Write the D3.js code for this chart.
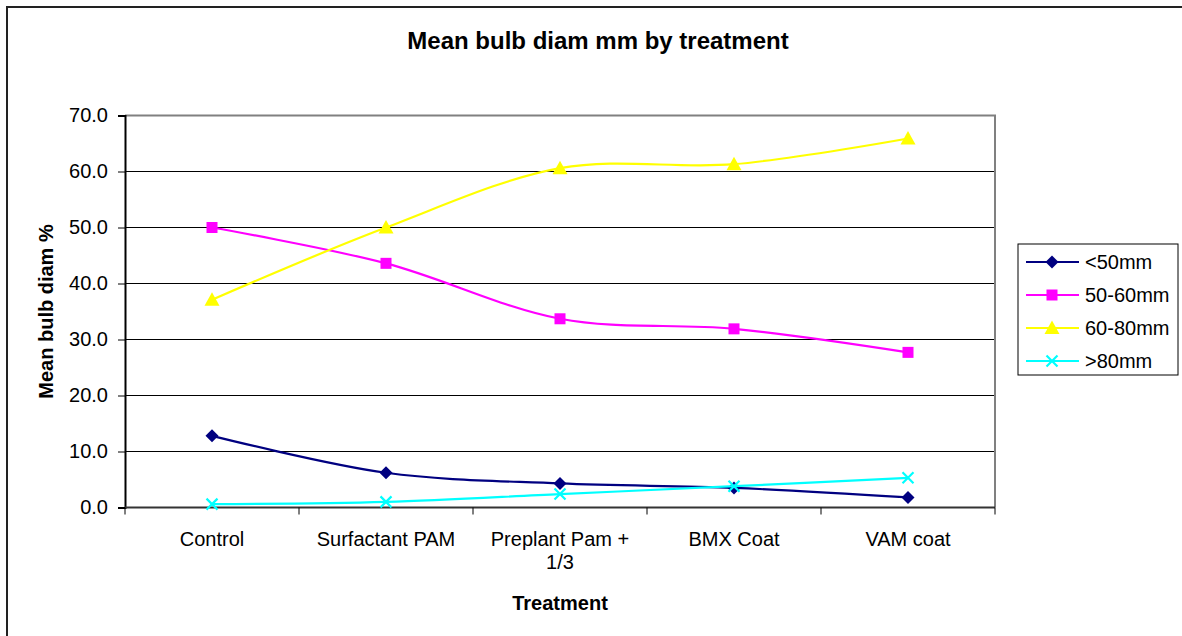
<!DOCTYPE html>
<html>
<head>
<meta charset="utf-8">
<script src="https://cdn.jsdelivr.net/npm/d3@7"></script>
<style>
  html, body { margin: 0; padding: 0; background: #fff; }
  svg { display: block; font-family: "Liberation Sans", Arial, sans-serif; }
</style>
</head>
<body>
<svg id="chart" width="1182" height="636"></svg>
<script>
// Treatments on the category axis
const categories = ["Control", "Surfactant PAM", "Preplant Pam + 1/3", "BMX Coat", "VAM coat"];
// Two-line wrapping of the category labels
const categoryLines = [["Control"], ["Surfactant PAM"], ["Preplant Pam +", "1/3"], ["BMX Coat"], ["VAM coat"]];

// Mean bulb diameter share (%) per size class
const seriesNames = ["<50mm", "50-60mm", "60-80mm", ">80mm"];
const under50 = [12.8, 6.2, 4.3, 3.5, 1.8];
const from50to60 = [50.0, 43.6, 33.7, 31.9, 27.7];
const from60to80 = [37.1, 50.0, 60.6, 61.3, 65.9];
const over80 = [0.6, 1.0, 2.4, 3.8, 5.3];
const seriesValues = [under50, from50to60, from60to80, over80];

const yTicks = [0, 10, 20, 30, 40, 50, 60, 70];

const colors = ["#000080", "#FF00FF", "#FFFF00", "#00FFFF"];
const markers = ["diamond", "square", "triangle", "cross"];

const svg = d3.select("#chart");
const plot = { left: 125, right: 995, top: 115.5, bottom: 507.5 };

// Outer chart frame
svg.append("rect")
  .attr("x", 7).attr("y", 7).attr("width", 1200).attr("height", 700)
  .attr("fill", "#fff").attr("stroke", "#222").attr("stroke-width", 2);

const x = d3.scaleBand().domain(categories).range([plot.left, plot.right]).padding(0);
const y = d3.scaleLinear().domain([0, 70]).range([plot.bottom, plot.top]);
const cx = c => x(c) + x.bandwidth() / 2;

// Horizontal gridlines
svg.append("g").selectAll("line")
  .data(yTicks.filter(v => v > 0 && v < 70))
  .join("line")
  .attr("x1", plot.left).attr("x2", plot.right)
  .attr("y1", d => y(d)).attr("y2", d => y(d))
  .attr("stroke", "#000").attr("stroke-width", 1);

// Plot area frame (top and right)
svg.append("path")
  .attr("d", `M${plot.left},${plot.top}H${plot.right}V${plot.bottom}`)
  .attr("fill", "none").attr("stroke", "#808080").attr("stroke-width", 2);

// Y axis
const yAxis = svg.append("g")
  .attr("transform", `translate(${plot.left},0)`)
  .call(d3.axisLeft(y).tickValues(yTicks).tickFormat(d3.format(".1f")).tickSize(7).tickPadding(10));
yAxis.select(".domain").attr("stroke", "#000").attr("stroke-width", 2);
yAxis.selectAll(".tick line").attr("stroke", "#000");
yAxis.selectAll(".tick text")
  .attr("font-size", 20).attr("fill", "#000")
  .attr("font-family", "'Liberation Sans', Arial, sans-serif");

// X axis: ticks sit on the category boundaries
const xg = svg.append("g");
xg.append("line")
  .attr("x1", plot.left).attr("x2", plot.right)
  .attr("y1", plot.bottom).attr("y2", plot.bottom)
  .attr("stroke", "#333").attr("stroke-width", 2);
const bounds = categories.map(c => x(c)).concat([x.range()[1]]);
xg.selectAll("line.tk").data(bounds).join("line")
  .attr("class", "tk")
  .attr("x1", d => d).attr("x2", d => d)
  .attr("y1", plot.bottom).attr("y2", plot.bottom + 7)
  .attr("stroke", "#000").attr("stroke-width", 1);

const labels = xg.selectAll("text.cat").data(categories).join("text")
  .attr("class", "cat")
  .attr("text-anchor", "middle")
  .attr("font-size", 20)
  .attr("fill", "#000");
labels.each(function(c, i) {
  d3.select(this).selectAll("tspan").data(categoryLines[i]).join("tspan")
    .attr("x", cx(c))
    .attr("y", (d, j) => 546 + j * 23)
    .text(d => d);
});

// Series lines (smoothed) and markers
const line = d3.line()
  .x((d, i) => cx(categories[i]))
  .y(d => y(d))
  .curve(d3.curveCatmullRom.alpha(0));

function drawMarker(g, type, color, px, py) {
  if (type === "diamond") {
    g.append("path")
      .attr("d", `M${px},${py - 6.5}L${px + 6.5},${py}L${px},${py + 6.5}L${px - 6.5},${py}Z`)
      .attr("fill", color);
  } else if (type === "square") {
    g.append("rect")
      .attr("x", px - 5.5).attr("y", py - 5.5).attr("width", 11).attr("height", 11)
      .attr("fill", color);
  } else if (type === "triangle") {
    g.append("path")
      .attr("d", `M${px},${py - 7.5}L${px + 7.5},${py + 6}L${px - 7.5},${py + 6}Z`)
      .attr("fill", color);
  } else {
    g.append("path")
      .attr("d", `M${px - 5.5},${py - 5.5}L${px + 5.5},${py + 5.5}M${px - 5.5},${py + 5.5}L${px + 5.5},${py - 5.5}`)
      .attr("stroke", color).attr("stroke-width", 2.2).attr("fill", "none");
  }
}

seriesValues.forEach((vals, s) => {
  const g = svg.append("g");
  g.append("path")
    .attr("d", line(vals))
    .attr("fill", "none")
    .attr("stroke", colors[s])
    .attr("stroke-width", 2.2);
  vals.forEach((v, i) => drawMarker(g, markers[s], colors[s], cx(categories[i]), y(v)));
});

// Title
svg.append("text")
  .attr("x", 598).attr("y", 49)
  .attr("text-anchor", "middle")
  .attr("font-size", 24).attr("font-weight", "bold")
  .text("Mean bulb diam mm by treatment");

// Axis titles
svg.append("text")
  .attr("x", 560).attr("y", 610)
  .attr("text-anchor", "middle")
  .attr("font-size", 20).attr("font-weight", "bold")
  .text("Treatment");

svg.append("text")
  .attr("transform", `translate(53,${(plot.top + plot.bottom) / 2}) rotate(-90)`)
  .attr("text-anchor", "middle")
  .attr("font-size", 20).attr("font-weight", "bold")
  .text("Mean bulb diam %");

// Legend
const legend = svg.append("g");
legend.append("rect")
  .attr("x", 1018).attr("y", 244).attr("width", 160).attr("height", 131)
  .attr("fill", "#fff").attr("stroke", "#000").attr("stroke-width", 1);
const rowY = [262, 295, 328, 361];
seriesNames.forEach((name, s) => {
  const ry = rowY[s];
  legend.append("line")
    .attr("x1", 1026).attr("x2", 1079).attr("y1", ry).attr("y2", ry)
    .attr("stroke", colors[s]).attr("stroke-width", 2.2);
  drawMarker(legend, markers[s], colors[s], 1052, ry);
  legend.append("text")
    .attr("x", 1085).attr("y", ry + 7)
    .attr("font-size", 20)
    .text(name);
});
</script>
</body>
</html>
